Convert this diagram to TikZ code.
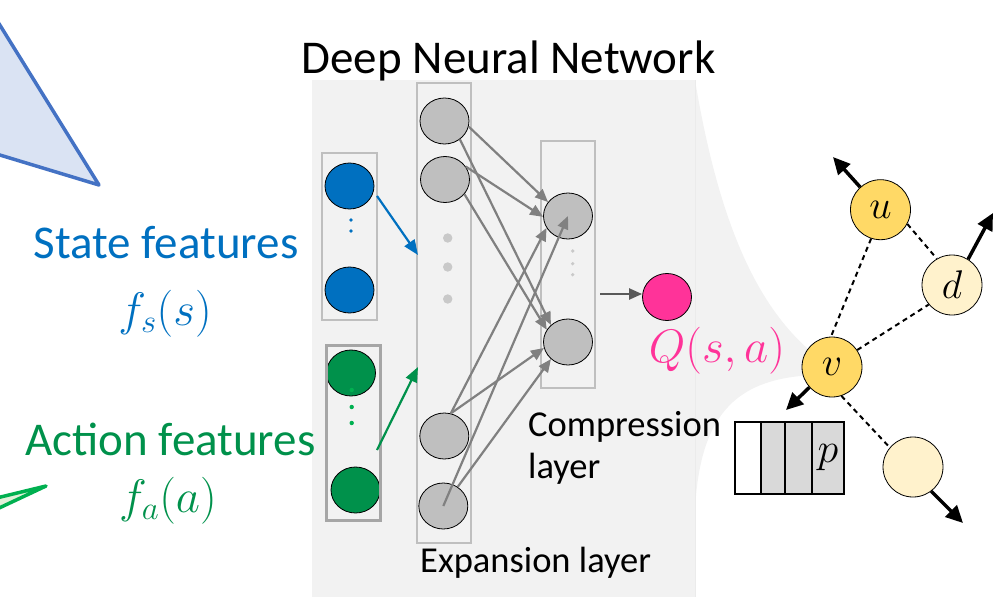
\RequirePackage{fix-cm}
\documentclass[tikz,border=0pt]{standalone}
\usepackage{fontspec}
\setmainfont{Carlito}
\usetikzlibrary{arrows.meta,shapes.geometric}
\definecolor{bgray}{HTML}{F2F2F2}
\definecolor{sblue}{HTML}{0070C0}
\definecolor{agreen}{HTML}{00914B}
\definecolor{lgreen}{HTML}{00B050}
\definecolor{gfill}{HTML}{E2F0D9}
\definecolor{qpink}{HTML}{FF3399}
\definecolor{ngray}{HTML}{BFBFBF}
\definecolor{nfill}{HTML}{BFBFBF}
\definecolor{egray}{HTML}{808080}
\definecolor{ogray}{HTML}{595959}
\definecolor{dgray}{HTML}{C9C9C9}
\definecolor{ygold}{HTML}{FFD966}
\definecolor{ylight}{HTML}{FFF2CC}
\definecolor{tblue}{HTML}{4472C4}
\definecolor{tfill}{HTML}{DAE3F3}
\definecolor{cellgray}{HTML}{D9D9D9}
\begin{document}
\begin{tikzpicture}[x=1pt,y=-1pt,
  neuron/.style={ellipse,draw=black,line width=0.8pt,minimum width=49pt,minimum height=46pt,inner sep=0pt},
  edgearrow/.style={draw=egray,line width=2.2pt,-{Triangle[length=13pt,width=11pt]}},
  gnode/.style={circle,draw=black,line width=0.8pt,minimum size=60pt,inner sep=0pt,font=\fontsize{40}{48}\selectfont},
  dashline/.style={draw=black,line width=2pt,dash pattern=on 5pt off 4pt},
  movearrow/.style={draw=black,line width=3.5pt,-{Triangle[length=17pt,width=16pt]}},
  layerbox/.style={draw=ngray,line width=1.2pt},
  qcell/.style={rectangle,draw=black,line width=2pt,minimum height=72pt,inner sep=0pt},
  txt/.style={inner sep=0pt},
  bigfont/.style={font=\fontsize{47}{56}\selectfont},
  midfont/.style={font=\fontsize{36.5}{44}\selectfont}
]
\useasboundingbox (0,0) rectangle (993,597);
\clip (0,0) rectangle (993,597);

% left triangles
\draw[draw=tblue,fill=tfill,line width=3.5pt,line join=round] (-20,-7) -- (99,185) -- (-20,149) -- cycle;
\draw[draw=lgreen,fill=gfill,line width=3.5pt,line join=round] (-20,502) -- (46,486) -- (-20,517) -- cycle;

% gray background with callout
\fill[bgray] (312,80) rectangle (695,597);
\fill[bgray] (695,80) .. controls (720,230) and (760,310) .. (815,355) -- (815,375) .. controls (740,378) and (700,410) .. (695,510) -- cycle;
\draw[draw=black!8,line width=0.8pt] (695,80) -- (695,597);

% title and labels
\node[txt,bigfont,anchor=base] (title) at (508.5,73) {Deep Neural Network};
\node[txt,bigfont,anchor=base,text=sblue] (stxt) at (166,258) {State features};
\node[txt,bigfont,anchor=base,text=sblue] (smath) at (165,325) {$f_s(s)$};
\node[txt,bigfont,anchor=base,text=agreen] (atxt) at (170.5,455) {Action features};
\node[txt,bigfont,anchor=base,text=agreen] (amath) at (168,512) {$f_a(a)$};
\node[txt,bigfont,anchor=base,text=qpink] (qtxt) at (717,362) {$Q(s,a)$};
\node[txt,midfont,anchor=base west] (ctxt1) at (528,436) {Compression};
\node[txt,midfont,anchor=base west] (ctxt2) at (528,478) {layer};
\node[txt,midfont,anchor=base west] (etxt) at (420,572) {Expansion layer};

% state input
\draw[layerbox] (322,153) rectangle (377,320);
\node[neuron,fill=sblue] (s1) at (349.5,186) {};
\node[neuron,fill=sblue] (s2) at (349.5,290) {};
\fill[sblue] (351,220) circle (1.8);
\fill[sblue] (351,231) circle (1.8);

% action input
\node[neuron,fill=agreen] (a1) at (351,373) {};
\node[neuron,fill=agreen] (a2) at (355.5,490) {};
\draw[draw=black!35,line width=3pt] (326,345) rectangle (380,520);
\fill[lgreen] (351.7,390) circle (2.2);
\fill[lgreen] (351.7,407) circle (2.2);
\fill[lgreen] (351.7,423) circle (2.2);

% expansion layer
\draw[layerbox] (417,83) rectangle (471,543);
\node[neuron,fill=nfill] (n1) at (444.5,121) {};
\node[neuron,fill=nfill] (n2) at (445,179.5) {};
\node[neuron,fill=nfill] (n3) at (444.3,436) {};
\node[neuron,fill=nfill] (n4) at (443.3,506) {};
\fill[dgray] (447.7,238) circle (4.7);
\fill[dgray] (447.7,267) circle (4.7);
\fill[dgray] (447.7,299) circle (4.7);

% compression layer
\draw[layerbox] (541,141) rectangle (595,388);
\node[neuron,fill=nfill] (c1) at (568,216) {};
\node[neuron,fill=nfill] (c2) at (568,342) {};
\fill[dgray] (572.7,251) circle (1.8);
\fill[dgray] (572.7,263.7) circle (1.8);
\fill[dgray] (572.7,274.7) circle (1.8);

% output
\node[ellipse,draw=black,line width=0.8pt,minimum width=49pt,minimum height=47pt,inner sep=0pt,fill=qpink] (q) at (667,297) {};

% input arrows
\coordinate (bs) at (377,196);
\coordinate (be) at (418,255);
\draw[draw=sblue,line width=2.2pt,-{Triangle[length=15pt,width=12pt]}] (bs) -- (be);
\coordinate (gs) at (377,450);
\coordinate (ge) at (418,367);
\draw[draw=agreen,line width=2.2pt,-{Triangle[length=15pt,width=12pt]}] (gs) -- (ge);

% layer edges
\draw[edgearrow] (n1.-13) -- (c1.145);
\draw[edgearrow] (n1.-50) -- (c2.135);
\draw[edgearrow] (n2.32) -- (c1.182);
\draw[edgearrow] (n2.-37) -- (c2.150);
\draw[edgearrow] (n3.74) -- (c1.209);
\draw[edgearrow] (n3.74) -- (c2.194);
\draw[edgearrow] (n4.center) -- (c1.center);
\draw[edgearrow] (n4.53) -- (c2.225);

% output arrow
\coordinate (qs) at (600,294);
\draw[draw=ogray,line width=2.2pt,-{Triangle[length=13pt,width=11pt]}] (qs) -- (qs -| q.west);

% right graph
\node[gnode,fill=ygold] (u) at (880.5,209.7) {$u$};
\node[gnode,fill=ylight] (d) at (952,285) {$d$};
\node[gnode,fill=ygold] (v) at (832,367) {$v$};
\node[gnode,fill=ylight] (w) at (913,467) {};
\draw[dashline] (u.252) -- (v.92);
\draw[dashline] (u.-28) -- (d.120);
\draw[dashline] (v.34) -- (d.220);
\draw[dashline] (v.-72) -- (w.140);

\coordinate (ut) at (833,157);
\coordinate (dt) at (993,213);
\coordinate (vt) at (786,410);
\coordinate (wt) at (963,523);
\draw[movearrow] (u.132) -- (ut);
\draw[movearrow] (d.58) -- (dt);
\draw[movearrow] (v.222) -- (vt);
\draw[movearrow] (w.-53) -- (wt);

% queue
\node[qcell,fill=white,minimum width=26pt] (q1) at (748,458) {};
\node[qcell,fill=cellgray,minimum width=24pt] (q2) at (773,458) {};
\node[qcell,fill=cellgray,minimum width=27pt] (q3) at (798.5,458) {};
\node[qcell,fill=cellgray,minimum width=32pt,font=\fontsize{42}{50}\selectfont] (q4) at (828,458) {$p$};
\end{tikzpicture}
\end{document}
